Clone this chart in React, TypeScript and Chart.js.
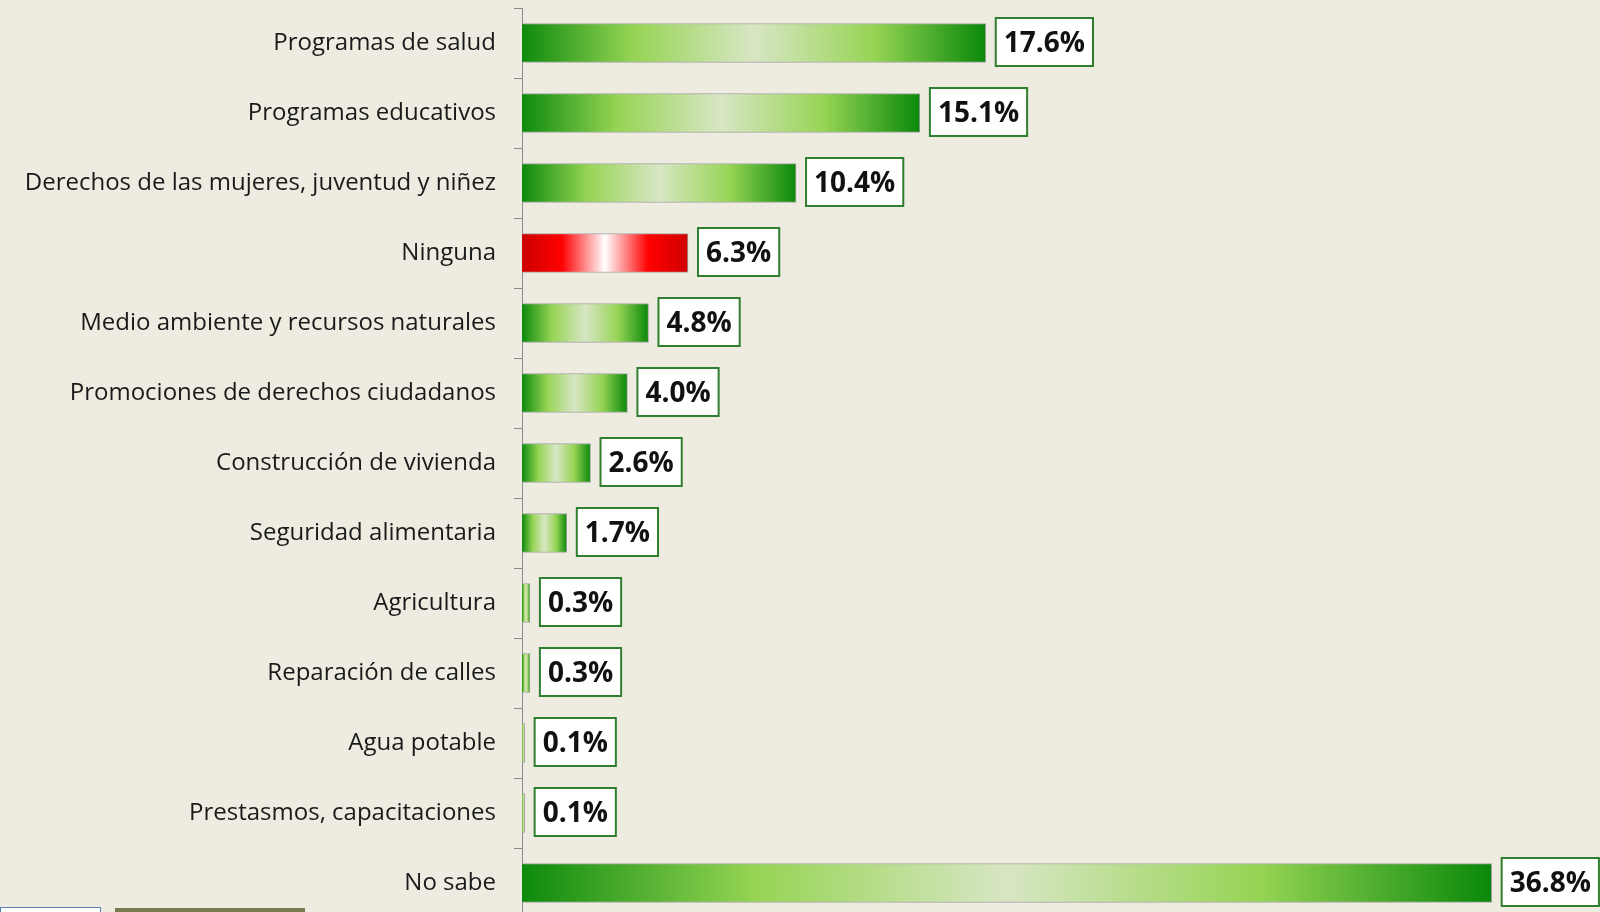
import React, { useEffect, useRef } from "react";
import { Chart, registerables } from "chart.js";

Chart.register(...registerables);

const categories = [
  "Programas de salud",
  "Programas educativos",
  "Derechos de las mujeres, juventud y niñez",
  "Ninguna",
  "Medio ambiente y recursos naturales",
  "Promociones de derechos ciudadanos",
  "Construcción de vivienda",
  "Seguridad alimentaria",
  "Agricultura",
  "Reparación de calles",
  "Agua potable",
  "Prestasmos, capacitaciones",
  "No sabe",
];
const values = [17.6, 15.1, 10.4, 6.3, 4.8, 4.0, 2.6, 1.7, 0.3, 0.3, 0.1, 0.1, 36.8];
const highlightIndex = 3; // "Ninguna" in red

const BG = "#EEECE1";

const labelPlugin = {
  id: "valueBoxes",
  afterDatasetsDraw(chart: any) {
    const ctx = chart.ctx;
    const meta = chart.getDatasetMeta(0);
    ctx.save();
    ctx.font = "bold 28px 'Open Sans'";
    ctx.textBaseline = "middle";
    ctx.textAlign = "left";
    meta.data.forEach((bar: any, i: number) => {
      const text = values[i].toFixed(1) + "%";
      const tw = ctx.measureText(text).width;
      const padX = 8;
      const h = 48;
      const left = bar.x + 10;
      const top = bar.y - h / 2 - 1;
      const w = tw + padX * 2;
      ctx.fillStyle = "#ffffff";
      ctx.fillRect(left, top, w, h);
      ctx.strokeStyle = "#2f7f2f";
      ctx.lineWidth = 2;
      ctx.strokeRect(left, top, w, h);
      ctx.fillStyle = "#111111";
      ctx.fillText(text, left + padX, bar.y + 1);
    });
    ctx.restore();
  },
};

function barFill(context: any) {
  const chart = context.chart;
  const i = context.dataIndex;
  const isRed = i === highlightIndex;
  const fallback = isRed ? "#ff0000" : "#92d050";
  const xs = chart.scales && chart.scales.x;
  if (!chart.chartArea || !xs) return fallback;
  const x0 = xs.getPixelForValue(0);
  const x1 = xs.getPixelForValue(values[i]);
  if (!isFinite(x0) || !isFinite(x1) || x1 - x0 < 1) return fallback;
  const g = chart.ctx.createLinearGradient(x0, 0, x1, 0);
  if (isRed) {
    g.addColorStop(0, "#cc0000");
    g.addColorStop(0.24, "#ff0000");
    g.addColorStop(0.5, "#ffffff");
    g.addColorStop(0.76, "#ff0000");
    g.addColorStop(1, "#d00000");
  } else {
    g.addColorStop(0, "#0d8a0d");
    g.addColorStop(0.24, "#96d454");
    g.addColorStop(0.5, "#d8e6c4");
    g.addColorStop(0.76, "#96d454");
    g.addColorStop(1, "#0a880a");
  }
  return g;
}

export default function App() {
  const canvasRef = useRef<HTMLCanvasElement | null>(null);

  useEffect(() => {
    document.body.style.margin = "0";
    document.body.style.background = BG;
    const canvas = canvasRef.current;
    if (!canvas) return;
    const chart = new Chart(canvas, {
      type: "bar",
      data: {
        labels: categories,
        datasets: [
          {
            data: values,
            backgroundColor: barFill as any,
            borderColor: "#a0a0a0",
            borderWidth: 1,
            barThickness: 39,
          },
        ],
      },
      options: {
        indexAxis: "y",
        animation: false,
        responsive: false,
        maintainAspectRatio: false,
        layout: { padding: { top: 8, bottom: 12, right: 24, left: 0 } },
        plugins: {
          legend: { display: false },
          tooltip: { enabled: false },
        },
        scales: {
          x: {
            display: false,
            min: 0,
            max: 40,
          },
          y: {
            afterFit: (scale: any) => {
              scale.width = 522;
              scale.paddingTop = 0;
              scale.paddingBottom = 0;
            },
            grid: {
              offset: true,
              drawOnChartArea: false,
              drawTicks: true,
              tickLength: 8,
              color: "#8c8c8c",
            },
            border: { display: true, color: "#8c8c8c", width: 1 },
            ticks: {
              color: "#1a1a1a",
              padding: 18,
              font: { family: "'Open Sans'", size: 24 },
            },
          },
        },
      },
      plugins: [labelPlugin],
    });
    return () => chart.destroy();
  }, []);

  return (
    <div style={{ position: "absolute", left: 0, top: 0, width: 1600, height: 930, background: BG, overflow: "hidden" }}>
      <canvas ref={canvasRef} width={1600} height={930} style={{ display: "block", width: 1600, height: 930 }} />
      <div style={{ position: "absolute", left: 0, top: 907, width: 101, height: 20, background: "#ffffff", border: "1px solid #5b7fb8", boxSizing: "border-box" }} />
      <div style={{ position: "absolute", left: 115, top: 908, width: 190, height: 20, background: "#7a7a52" }} />
    </div>
  );
}
